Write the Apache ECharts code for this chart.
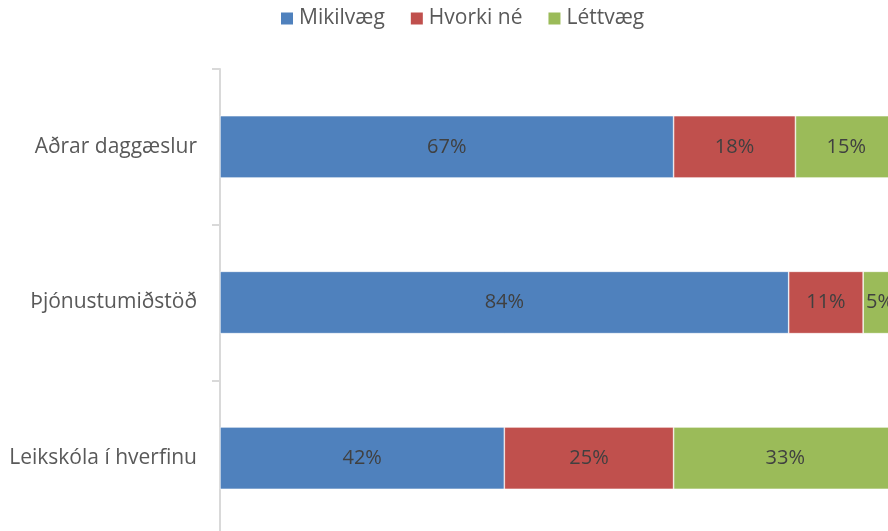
<!DOCTYPE html>
<html>
<head>
<meta charset="utf-8">
<script src="https://cdn.jsdelivr.net/npm/echarts@6/dist/echarts.min.js"></script>
<style>
  html, body { margin: 0; padding: 0; background: #fff; overflow: hidden; }
  #chart { width: 897px; height: 536px; }
</style>
</head>
<body>
<div id="chart"></div>
<script>
const categories = ["Aðrar daggæslur", "Þjónustumiðstöð", "Leikskóla í hverfinu"];
const mikilvaeg = [67, 84, 42];
const hvorki = [18, 11, 25];
const lettvaeg = [15, 5, 33];

const FONT = "Open Sans";
const chart = echarts.init(document.querySelector("#chart"));

const bar = (name, data, color) => ({
  name,
  type: "bar",
  stack: "total",
  data,
  barWidth: "40%",
  itemStyle: { color, borderColor: "#ffffff", borderWidth: 0.6 },
  label: {
    show: true,
    position: "inside",
    formatter: p => `${p.value}%`,
    color: "#404040",
    fontFamily: FONT,
    fontSize: 20
  },
  emphasis: { disabled: true }
});

chart.setOption({
  animation: false,
  textStyle: { fontFamily: FONT },
  legend: {
    top: 3,
    left: 274,
    itemWidth: 14,
    itemHeight: 14,
    itemGap: 24,
    icon: "rect",
    textStyle: { color: "#595959", fontSize: 21, fontFamily: FONT },
    data: ["Mikilvæg", "Hvorki né", "Léttvæg"]
  },
  grid: { left: 220, right: 0, top: 69, bottom: 0, containLabel: false },
  xAxis: { type: "value", min: 0, max: 100, show: false },
  yAxis: {
    type: "category",
    inverse: true,
    data: categories,
    axisLine: { show: true, lineStyle: { color: "#d9d9d9", width: 2 } },
    axisTick: { show: true, length: 8, lineStyle: { color: "#d9d9d9", width: 2 } },
    axisLabel: { color: "#595959", fontSize: 21, fontFamily: FONT, margin: 23 }
  },
  series: [
    bar("Mikilvæg", mikilvaeg, "#4f81bd"),
    bar("Hvorki né", hvorki, "#c0504d"),
    bar("Léttvæg", lettvaeg, "#9bbb59")
  ]
});
</script>
</body>
</html>
